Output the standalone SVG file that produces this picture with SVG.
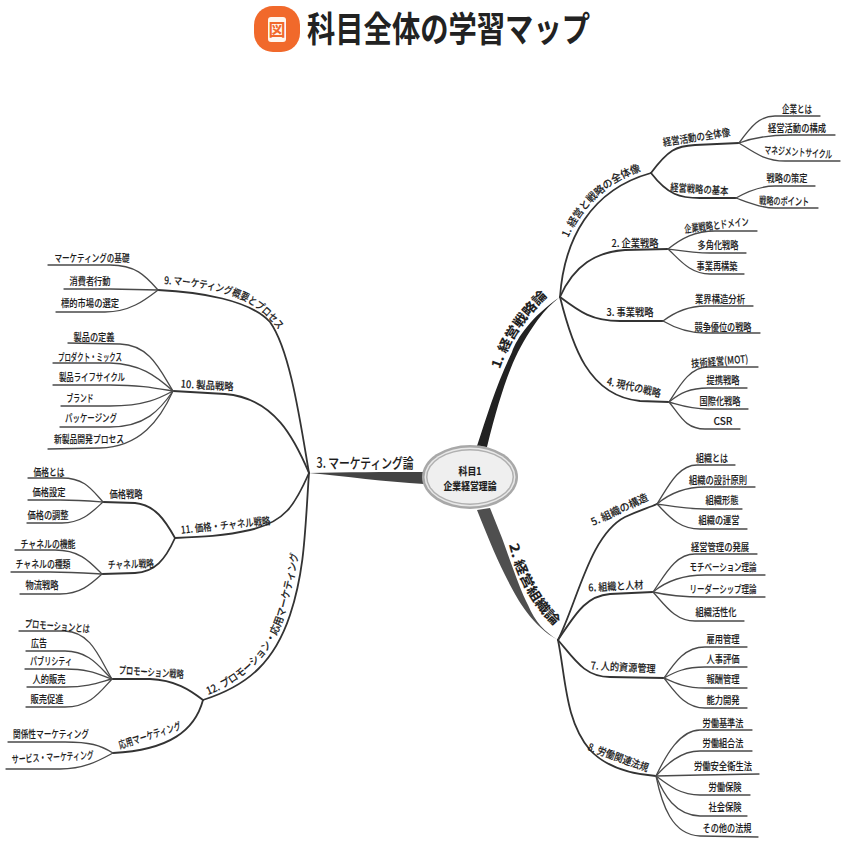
<svg xmlns="http://www.w3.org/2000/svg" xmlns:xlink="http://www.w3.org/1999/xlink" width="846" height="846" viewBox="0 0 846 846">
<style>
text{font-family:"Noto Sans CJK JP","Liberation Sans",sans-serif;fill:#1c1c1c;font-size:10.5px;text-anchor:middle;font-weight:500;stroke:#1c1c1c;stroke-width:.12px}
.big{font-size:13px;font-weight:700}
.big3{font-size:14px;font-weight:500}
.c{font-size:10.5px;font-weight:700}
.ttl{font-size:35px;font-weight:700;text-anchor:start;fill:#222;stroke:none}
.b{fill:none;stroke:#333;stroke-width:1.8;stroke-linecap:round}
.l{fill:none;stroke:#4a4a4a;stroke-width:1.3;stroke-linecap:round}
</style>
<defs>
<path id="p0" d="M500 369C507 349 519 323 549 295"/>
<path id="p2" d="M509 545C515 569 529 605 558 629"/>
<path id="p1" d="M568 238C583 206 610 180 642 171"/>
<path id="p9" d="M164 284C200 286 240 292 264 314C272 321 279 330 286 341"/>
<path id="p12" d="M208 695C245 681 275 652 286 610C291 590 296 570 300 545"/>
</defs>
<rect width="846" height="846" fill="#fff"/>
<g id="title">
<rect x="254" y="6" width="46" height="46" rx="19" fill="#f1692b"/>
<rect x="268" y="17" width="18" height="25" rx="3" fill="#fff6ee"/>
<text x="277" y="35.500" style="font-size:17px;fill:#f1692b;stroke:none;font-weight:700">図</text>
<text class="ttl" x="307" y="42" textLength="283" lengthAdjust="spacingAndGlyphs">科目全体の学習マップ</text>
</g>
<g id="connectors">
<path fill="#222" d="M477 446C487 416 495 388 512 352C517 338 532 316 560 297C548 306 535 320 518 352C508 372 498 402 487 447Z"/>
<path fill="#4f4f4f" d="M477 510C485 530 495 555 505 575C515 595 530 625 558 640C545 632 535 622 528 605C520 590 510 560 502 538C498 528 494 518 490 508Z"/>
<path fill="#444" d="M424 472C385 472 345 472 309 473C345 476 385 482 424 484Z"/>
<g class="main">
<path class="b" d="M560 297C564 240 590 190 651 173"/>
<path class="b" d="M651 173C668 150 676 146 695 145L739 143"/>
<path class="b" d="M651 173C668 195 680 198 700 198L736 198"/>
<path class="b" d="M560 297C574 265 596 252 625 250L668 249"/>
<path class="b" d="M560 297C580 312 592 321 620 321L663 321"/>
<path class="b" d="M560 297C572 345 588 396 640 401L669 402"/>
<path class="b" d="M558 640C578 600 590 535 625 517C640 510 648 508 657 504"/>
<path class="b" d="M558 640C575 615 585 596 610 594L653 592"/>
<path class="b" d="M558 640C575 660 585 677 610 677L664 678"/>
<path class="b" d="M558 640C566 680 565 720 590 750C605 766 630 774 656 776"/>
<path class="b" d="M309 473C300 420 290 350 270 322C250 300 200 292 158 290"/>
<path class="b" d="M309 473C295 440 275 398 225 394L173 391"/>
<path class="b" d="M309 473C295 505 285 522 250 530C225 536 200 537 175 538"/>
<path class="b" d="M175 538C165 520 155 505 135 503L103 502"/>
<path class="b" d="M175 538C165 560 155 572 135 573L102 574"/>
<path class="b" d="M309 473C305 530 305 570 290 615C275 660 250 685 203 700"/>
<path class="b" d="M203 700C190 690 175 680 150 679L112 679"/>
<path class="b" d="M203 700C195 730 170 750 113 753"/>
</g>
<g class="leaves">
<path class="l" d="M739 143C752 125 760 116 775 116L820 116"/>
<path class="l" d="M739 143C755 137 770 135 790 135L835 135"/>
<path class="l" d="M739 143C755 153 765 161 785 161L840 161"/>
<path class="l" d="M736 198C750 190 762 186 775 186L815 186"/>
<path class="l" d="M736 198C750 203 762 208 775 208L818 208"/>
<path class="l" d="M668 249C682 238 695 231 715 231L757 231"/>
<path class="l" d="M668 249C682 251 695 253 710 253L746 253"/>
<path class="l" d="M668 249C680 260 690 274 710 274L744 274"/>
<path class="l" d="M663 321C675 312 688 306 705 306L753 306"/>
<path class="l" d="M663 321C675 328 688 333 705 333L760 333"/>
<path class="l" d="M669 402C680 385 690 367 708 367L758 367"/>
<path class="l" d="M669 402C680 393 690 388 708 388L747 388"/>
<path class="l" d="M669 402C680 405 690 409 708 409L748 409"/>
<path class="l" d="M669 402C680 415 685 429 705 429L740 429"/>
<path class="l" d="M657 504C668 487 678 465 697 465L735 465"/>
<path class="l" d="M657 504C670 493 685 487 705 487L755 487"/>
<path class="l" d="M657 504C670 506 685 509 705 509L742 509"/>
<path class="l" d="M657 504C668 515 678 529 700 529L747 529"/>
<path class="l" d="M653 592C665 575 675 554 695 554L757 554"/>
<path class="l" d="M653 592C665 582 680 575 705 575L765 575"/>
<path class="l" d="M653 592C665 595 680 597 705 597L765 597"/>
<path class="l" d="M653 592C665 605 675 621 695 621L744 621"/>
<path class="l" d="M664 678C675 662 685 647 705 647L747 647"/>
<path class="l" d="M664 678C675 672 685 667 705 667L747 667"/>
<path class="l" d="M664 678C675 683 685 688 705 688L747 688"/>
<path class="l" d="M664 678C675 692 685 708 705 708L747 708"/>
<path class="l" d="M656 776C666 755 680 730 700 730L752 730"/>
<path class="l" d="M656 776C666 765 680 751 700 751L752 751"/>
<path class="l" d="M656 776L700 775L759 774"/>
<path class="l" d="M656 776C668 785 680 795 700 795L750 795"/>
<path class="l" d="M656 776C664 795 675 815 700 816L747 816"/>
<path class="l" d="M656 776C662 805 672 835 700 836L758 837"/>
<path class="l" d="M158 290C145 275 135 265 110 265L48 265"/>
<path class="l" d="M158 290L110 289L64 289"/>
<path class="l" d="M158 290C145 300 130 312 105 312L56 312"/>
<path class="l" d="M173 391C160 370 150 345 120 344L68 343"/>
<path class="l" d="M173 391C155 375 140 364 110 363L53 363"/>
<path class="l" d="M173 391C155 388 140 385 110 385L53 385"/>
<path class="l" d="M173 391C160 398 145 406 110 406L61 406"/>
<path class="l" d="M173 391C160 410 145 427 110 427L60 427"/>
<path class="l" d="M173 391C160 420 140 447 100 448L48 449"/>
<path class="l" d="M103 502C92 490 85 478 62 478L28 478"/>
<path class="l" d="M103 502C90 501 78 500 60 500L28 500"/>
<path class="l" d="M103 502C92 512 82 523 62 523L27 523"/>
<path class="l" d="M102 574C90 562 80 550 55 550L15 550"/>
<path class="l" d="M102 574C85 573 70 572 50 572L11 572"/>
<path class="l" d="M102 574C90 585 80 594 60 594L20 594"/>
<path class="l" d="M112 679C100 660 92 632 65 631L19 631"/>
<path class="l" d="M112 679C100 668 90 651 65 651L26 651"/>
<path class="l" d="M112 679C100 675 90 669 65 669L25 669"/>
<path class="l" d="M112 679C100 682 90 687 65 687L27 687"/>
<path class="l" d="M112 679C100 692 90 707 65 707L26 707"/>
<path class="l" d="M113 753C100 745 90 742 65 742L8 742"/>
<path class="l" d="M113 753C100 760 85 769 60 769L6 769"/>
</g>
</g>
<g id="center">
<ellipse cx="470" cy="477" rx="48" ry="32" fill="#a8a8a8"/>
<ellipse cx="470" cy="477" rx="45.500" ry="29.500" fill="#e8e8e8"/>
<ellipse cx="470" cy="477" rx="44" ry="28" fill="#b0b0b0"/>
<ellipse cx="470" cy="477" rx="42.500" ry="26.500" fill="#efefef"/>
<text class="c" x="470" y="475" textLength="23" lengthAdjust="spacingAndGlyphs">科目1</text>
<text class="c" x="470" y="490" textLength="53" lengthAdjust="spacingAndGlyphs">企業経営理論</text>
</g>
<g id="n1"><text class="big"><textPath xlink:href="#p0" href="#p0" textLength="88" lengthAdjust="spacingAndGlyphs" style="text-anchor:start">1. 経営戦略論</textPath></text></g>
<g id="n1-1"><text><textPath xlink:href="#p1" href="#p1" textLength="102" lengthAdjust="spacingAndGlyphs" style="text-anchor:start">1. 経営と戦略の全体像</textPath></text></g>
<g id="n1-1-1"><text transform="translate(697 141) rotate(-9)" textLength="68" lengthAdjust="spacingAndGlyphs">経営活動の全体像</text></g>
<g id="n1-1-1a"><text x="797" y="113" textLength="30" lengthAdjust="spacingAndGlyphs">企業とは</text></g>
<g id="n1-1-1b"><text x="797" y="132" textLength="58" lengthAdjust="spacingAndGlyphs">経営活動の構成</text></g>
<g id="n1-1-1c"><text transform="translate(798 156) rotate(4)" textLength="68" lengthAdjust="spacingAndGlyphs">マネジメントサイクル</text></g>
<g id="n1-1-2"><text transform="translate(699 193) rotate(4)" textLength="58" lengthAdjust="spacingAndGlyphs">経営戦略の基本</text></g>
<g id="n1-1-2a"><text x="787" y="182" textLength="41" lengthAdjust="spacingAndGlyphs">戦略の策定</text></g>
<g id="n1-1-2b"><text transform="translate(784 205) rotate(2)" textLength="50" lengthAdjust="spacingAndGlyphs">戦略のポイント</text></g>
<g id="n1-2"><text x="635" y="247" textLength="47" lengthAdjust="spacingAndGlyphs">2. 企業戦略</text></g>
<g id="n1-2a"><text transform="translate(717 229) rotate(-7)" textLength="65" lengthAdjust="spacingAndGlyphs">企業戦略とドメイン</text></g>
<g id="n1-2b"><text x="718" y="249" textLength="41" lengthAdjust="spacingAndGlyphs">多角化戦略</text></g>
<g id="n1-2c"><text x="717" y="270" textLength="41" lengthAdjust="spacingAndGlyphs">事業再構築</text></g>
<g id="n1-3"><text x="630" y="316" textLength="47" lengthAdjust="spacingAndGlyphs">3. 事業戦略</text></g>
<g id="n1-3a"><text x="720" y="303" textLength="50" lengthAdjust="spacingAndGlyphs">業界構造分析</text></g>
<g id="n1-3b"><text x="723" y="331" textLength="57" lengthAdjust="spacingAndGlyphs">競争優位の戦略</text></g>
<g id="n1-4"><text transform="translate(633 391) rotate(13)" textLength="55" lengthAdjust="spacingAndGlyphs">4. 現代の戦略</text></g>
<g id="n1-4a"><text transform="translate(720 365) rotate(-5)" textLength="57" lengthAdjust="spacingAndGlyphs">技術経営(MOT)</text></g>
<g id="n1-4b"><text x="723" y="384" textLength="33" lengthAdjust="spacingAndGlyphs">提携戦略</text></g>
<g id="n1-4c"><text x="720" y="405" textLength="41" lengthAdjust="spacingAndGlyphs">国際化戦略</text></g>
<g id="n1-4d"><text x="723" y="425" textLength="19" lengthAdjust="spacingAndGlyphs">CSR</text></g>
<g id="n2"><text class="big"><textPath xlink:href="#p2" href="#p2" textLength="94" lengthAdjust="spacingAndGlyphs" style="text-anchor:start">2. 経営組織論</textPath></text></g>
<g id="n2-5"><text transform="translate(621 513) rotate(-25)" textLength="62" lengthAdjust="spacingAndGlyphs">5. 組織の構造</text></g>
<g id="n2-5a"><text x="712" y="462" textLength="32" lengthAdjust="spacingAndGlyphs">組織とは</text></g>
<g id="n2-5b"><text x="718" y="484" textLength="58" lengthAdjust="spacingAndGlyphs">組織の設計原則</text></g>
<g id="n2-5c"><text x="722" y="504" textLength="33" lengthAdjust="spacingAndGlyphs">組織形態</text></g>
<g id="n2-5d"><text x="719" y="524" textLength="41" lengthAdjust="spacingAndGlyphs">組織の運営</text></g>
<g id="n2-6"><text transform="translate(616 590) rotate(-3)" textLength="55" lengthAdjust="spacingAndGlyphs">6. 組織と人材</text></g>
<g id="n2-6a"><text x="720" y="551" textLength="58" lengthAdjust="spacingAndGlyphs">経営管理の発展</text></g>
<g id="n2-6b"><text x="723" y="571" textLength="67" lengthAdjust="spacingAndGlyphs">モチベーション理論</text></g>
<g id="n2-6c"><text x="723" y="593" textLength="67" lengthAdjust="spacingAndGlyphs">リーダーシップ理論</text></g>
<g id="n2-6d"><text x="716" y="616" textLength="41" lengthAdjust="spacingAndGlyphs">組織活性化</text></g>
<g id="n2-7"><text transform="translate(623 671) rotate(3)" textLength="65" lengthAdjust="spacingAndGlyphs">7. 人的資源管理</text></g>
<g id="n2-7a"><text x="723" y="643" textLength="33" lengthAdjust="spacingAndGlyphs">雇用管理</text></g>
<g id="n2-7b"><text x="723" y="663" textLength="33" lengthAdjust="spacingAndGlyphs">人事評価</text></g>
<g id="n2-7c"><text x="723" y="683" textLength="33" lengthAdjust="spacingAndGlyphs">報酬管理</text></g>
<g id="n2-7d"><text x="723" y="704" textLength="33" lengthAdjust="spacingAndGlyphs">能力開発</text></g>
<g id="n2-8"><text transform="translate(617 761) rotate(20)" textLength="64" lengthAdjust="spacingAndGlyphs">8. 労働関連法規</text></g>
<g id="n2-8a"><text x="723" y="727" textLength="41" lengthAdjust="spacingAndGlyphs">労働基準法</text></g>
<g id="n2-8b"><text x="723" y="747" textLength="41" lengthAdjust="spacingAndGlyphs">労働組合法</text></g>
<g id="n2-8c"><text x="723" y="770" textLength="58" lengthAdjust="spacingAndGlyphs">労働安全衛生法</text></g>
<g id="n2-8d"><text x="725" y="791" textLength="33" lengthAdjust="spacingAndGlyphs">労働保険</text></g>
<g id="n2-8e"><text x="725" y="811" textLength="33" lengthAdjust="spacingAndGlyphs">社会保険</text></g>
<g id="n2-8f"><text x="727" y="832" textLength="49" lengthAdjust="spacingAndGlyphs">その他の法規</text></g>
<g id="n3"><text class="big3" x="365" y="468" textLength="97" lengthAdjust="spacingAndGlyphs">3. マーケティング論</text></g>
<g id="n3-9"><text><textPath xlink:href="#p9" href="#p9" textLength="128" lengthAdjust="spacingAndGlyphs" style="text-anchor:start">9. マーケティング概要とプロセス</textPath></text></g>
<g id="n3-9a"><text x="92" y="262" textLength="75" lengthAdjust="spacingAndGlyphs">マーケティングの基礎</text></g>
<g id="n3-9b"><text x="90" y="285" textLength="41" lengthAdjust="spacingAndGlyphs">消費者行動</text></g>
<g id="n3-9c"><text x="90" y="307" textLength="58" lengthAdjust="spacingAndGlyphs">標的市場の選定</text></g>
<g id="n3-10"><text transform="translate(207 389) rotate(3)" textLength="53" lengthAdjust="spacingAndGlyphs">10. 製品戦略</text></g>
<g id="n3-10a"><text x="94" y="341" textLength="41" lengthAdjust="spacingAndGlyphs">製品の定義</text></g>
<g id="n3-10b"><text x="90" y="361" textLength="64" lengthAdjust="spacingAndGlyphs">プロダクト・ミックス</text></g>
<g id="n3-10c"><text x="92" y="381" textLength="66" lengthAdjust="spacingAndGlyphs">製品ライフサイクル</text></g>
<g id="n3-10d"><text x="80" y="402" textLength="27" lengthAdjust="spacingAndGlyphs">ブランド</text></g>
<g id="n3-10e"><text x="91" y="422" textLength="52" lengthAdjust="spacingAndGlyphs">パッケージング</text></g>
<g id="n3-10f"><text x="89" y="443" textLength="70" lengthAdjust="spacingAndGlyphs">新製品開発プロセス</text></g>
<g id="n3-11"><text transform="translate(226 529) rotate(-6)" textLength="90" lengthAdjust="spacingAndGlyphs">11. 価格・チャネル戦略</text></g>
<g id="n3-11-1"><text x="126" y="498" textLength="33" lengthAdjust="spacingAndGlyphs">価格戦略</text></g>
<g id="n3-11-1a"><text x="49" y="476" textLength="31" lengthAdjust="spacingAndGlyphs">価格とは</text></g>
<g id="n3-11-1b"><text x="49" y="496" textLength="33" lengthAdjust="spacingAndGlyphs">価格設定</text></g>
<g id="n3-11-1c"><text x="48" y="519" textLength="41" lengthAdjust="spacingAndGlyphs">価格の調整</text></g>
<g id="n3-11-2"><text transform="translate(131 568) rotate(-2)" textLength="46" lengthAdjust="spacingAndGlyphs">チャネル戦略</text></g>
<g id="n3-11-2a"><text x="48" y="548" textLength="55" lengthAdjust="spacingAndGlyphs">チャネルの機能</text></g>
<g id="n3-11-2b"><text x="43" y="568" textLength="55" lengthAdjust="spacingAndGlyphs">チャネルの種類</text></g>
<g id="n3-11-2c"><text x="42" y="589" textLength="33" lengthAdjust="spacingAndGlyphs">物流戦略</text></g>
<g id="n3-12"><text><textPath xlink:href="#p12" href="#p12" textLength="178" lengthAdjust="spacingAndGlyphs" style="text-anchor:start">12. プロモーション・応用マーケティング</textPath></text></g>
<g id="n3-12-1"><text transform="translate(151 676) rotate(4)" textLength="65" lengthAdjust="spacingAndGlyphs">プロモーション戦略</text></g>
<g id="n3-12-1a"><text transform="translate(57 630) rotate(5)" textLength="65" lengthAdjust="spacingAndGlyphs">プロモーションとは</text></g>
<g id="n3-12-1b"><text x="39" y="647" textLength="16" lengthAdjust="spacingAndGlyphs">広告</text></g>
<g id="n3-12-1c"><text x="51" y="665" textLength="42" lengthAdjust="spacingAndGlyphs">パブリシティ</text></g>
<g id="n3-12-1d"><text x="49" y="683" textLength="33" lengthAdjust="spacingAndGlyphs">人的販売</text></g>
<g id="n3-12-1e"><text x="47" y="703" textLength="33" lengthAdjust="spacingAndGlyphs">販売促進</text></g>
<g id="n3-12-2"><text transform="translate(151 739) rotate(-18)" textLength="65" lengthAdjust="spacingAndGlyphs">応用マーケティング</text></g>
<g id="n3-12-2a"><text x="51" y="738" textLength="76" lengthAdjust="spacingAndGlyphs">関係性マーケティング</text></g>
<g id="n3-12-2b"><text transform="translate(53 761) rotate(-3)" textLength="82" lengthAdjust="spacingAndGlyphs">サービス・マーケティング</text></g>
</svg>
